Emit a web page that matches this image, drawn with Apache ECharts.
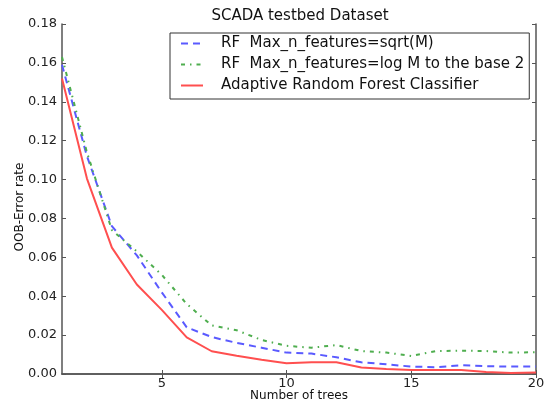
<!DOCTYPE html>
<html>
<head>
<meta charset="utf-8">
<script src="https://cdn.jsdelivr.net/npm/echarts@6/dist/echarts.min.js"></script>
<style>
  html, body { margin: 0; padding: 0; background: #fff; }
  #chart { width: 545px; height: 405px; }
</style>
</head>
<body>
<div id="chart"></div>
<script>
// number of trees on x
var trees = [1, 2, 3, 4, 5, 6, 7, 8, 9, 10, 11, 12, 13, 14, 15, 16, 17, 18, 19, 20];
// OOB error per setting
var sqrtM = [0.159, 0.112, 0.076, 0.061, 0.042, 0.024, 0.019, 0.016, 0.0135, 0.011,
             0.0105, 0.0086, 0.006, 0.005, 0.0038, 0.0035, 0.0045, 0.004, 0.0038, 0.0038];
var logM = [0.163, 0.114, 0.074, 0.063, 0.051, 0.036, 0.025, 0.0225, 0.0175, 0.0145,
            0.0135, 0.0149, 0.0118, 0.011, 0.0093, 0.0118, 0.012, 0.0118, 0.011, 0.0112];
var adaptive = [0.152, 0.1005, 0.065, 0.046, 0.033, 0.0188, 0.0117, 0.0094, 0.0073, 0.0055,
                0.006, 0.006, 0.0033, 0.0026, 0.002, 0.002, 0.002, 0.001, 0.0005, 0.0008];
var seriesNames = ['RF  Max_n_features=sqrt(M)', 'RF  Max_n_features=log M to the base 2', 'Adaptive Random Forest Classifier'];
var xTicks = [5, 10, 15, 20];

var font = 'DejaVu Sans';
var axisColor = '#555';

function pairs(ys) {
  return trees.map(function (t, i) { return [t, ys[i]]; });
}

var chart = echarts.init(document.getElementById('chart'));

var axisLine = { show: true, lineStyle: { color: axisColor, width: 1.5 } };
var tickStyle = { color: axisColor, width: 1 };

var option = {
  animation: false,
  title: {
    text: 'SCADA testbed Dataset',
    left: 295, top: 4, textAlign: 'center',
    textStyle: { fontFamily: font, fontSize: 15, fontWeight: 'normal', color: '#111' }
  },
  grid: { left: 62, right: 9, top: 24, bottom: 31, outerBoundsMode: 'none' },
  legend: {
    orient: 'vertical',
    left: 170, top: 33,
    padding: [3, 5, 6, 10],
    itemGap: 6,
    itemWidth: 22, itemHeight: 17,
    itemStyle: { opacity: 0 },
    borderColor: '#333', borderWidth: 1,
    textStyle: { fontFamily: font, fontSize: 15, color: '#111', padding: [0, 0, 0, 13] },
    data: seriesNames
  },
  xAxis: [
    {
      type: 'value', min: 1, max: 20,
      name: 'Number of trees', nameLocation: 'middle', nameGap: 16, nameMoveOverlap: false,
      nameTextStyle: { fontFamily: font, fontSize: 12, color: '#111' },
      axisLine: axisLine,
      axisTick: { show: true, inside: true, length: 4, customValues: xTicks, lineStyle: tickStyle },
      axisLabel: { customValues: xTicks, fontFamily: font, fontSize: 13, color: '#222', margin: 3 },
      splitLine: { show: false }
    },
    {
      type: 'value', min: 1, max: 20, position: 'top',
      axisLine: axisLine,
      axisTick: { show: true, inside: true, length: 4, customValues: xTicks, lineStyle: tickStyle },
      axisLabel: { show: false, customValues: xTicks },
      splitLine: { show: false }
    }
  ],
  yAxis: [
    {
      type: 'value', min: 0, max: 0.18, interval: 0.02,
      name: 'OOB-Error rate', nameLocation: 'middle', nameGap: 36, nameMoveOverlap: false,
      nameTextStyle: { fontFamily: font, fontSize: 12, color: '#111', padding: [0, 16, 0, 0] },
      axisLine: axisLine,
      axisTick: { show: true, inside: true, length: 4, lineStyle: tickStyle },
      axisLabel: {
        fontFamily: font, fontSize: 13, color: '#222', margin: 5,
        formatter: function (v) { return v.toFixed(2); }
      },
      splitLine: { show: false }
    },
    {
      type: 'value', min: 0, max: 0.18, interval: 0.02, position: 'right',
      axisLine: axisLine,
      axisTick: { show: true, inside: true, length: 4, lineStyle: tickStyle },
      axisLabel: { show: false },
      splitLine: { show: false }
    }
  ],
  series: [
    {
      name: seriesNames[0], type: 'line', symbol: 'none',
      data: pairs(sqrtM),
      lineStyle: { color: '#5a5aff', width: 2, type: [7, 5] },
      itemStyle: { color: '#5a5aff' }
    },
    {
      name: seriesNames[1], type: 'line', symbol: 'none',
      data: pairs(logM),
      lineStyle: { color: '#4fae4f', width: 2, type: [4, 5, 1.5, 5] },
      itemStyle: { color: '#4fae4f' }
    },
    {
      name: seriesNames[2], type: 'line', symbol: 'none',
      data: pairs(adaptive),
      lineStyle: { color: '#ff4f4f', width: 2 },
      itemStyle: { color: '#ff4f4f' }
    }
  ]
};

chart.setOption(option);
</script>
</body>
</html>
